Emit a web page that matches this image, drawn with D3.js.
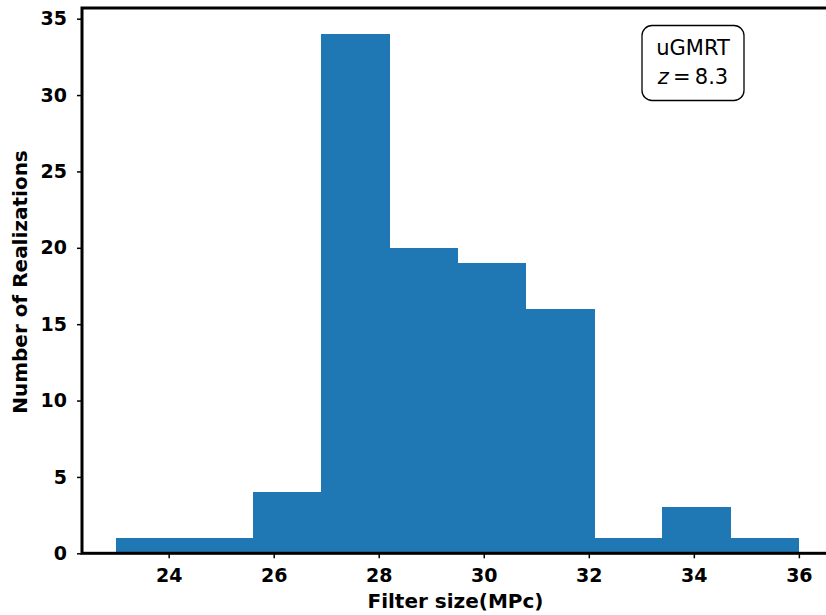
<!DOCTYPE html>
<html>
<head>
<meta charset="utf-8">
<script src="https://cdn.jsdelivr.net/npm/d3@7"></script>
<style>
  body { margin: 0; background: #fff; }
  svg { display: block; font-family: "DejaVu Sans", sans-serif; }
</style>
</head>
<body>
<svg id="chart" width="826" height="615"></svg>
<script>
(function () {
// Histogram bins: 10 equal bins spanning 23..36 MPc
const binEdges = [23, 24.3, 25.6, 26.9, 28.2, 29.5, 30.8, 32.1, 33.4, 34.7, 36];
const counts = [1, 1, 4, 34, 20, 19, 16, 1, 3, 1];
const xTicks = [24, 26, 28, 30, 32, 34, 36];
const yTicks = [0, 5, 10, 15, 20, 25, 30, 35];

const svg = d3.select("#chart");
const plotLeft = 82, plotRight = 833, plotTop = 8, plotBottom = 553.3;

const x = d3.scaleLinear().domain([22.35, 36.65]).range([plotLeft, plotRight]);
const y = d3.scaleLinear().domain([0, 35.7]).range([plotBottom, plotTop]);

const bins = counts.map((c, i) => ({ x0: binEdges[i], x1: binEdges[i + 1], n: c }));

svg.append("g").attr("shape-rendering", "crispEdges")
  .selectAll("rect").data(bins).join("rect")
  .attr("x", d => x(d.x0))
  .attr("width", d => x(d.x1) - x(d.x0) + 0.5)
  .attr("y", d => y(d.n))
  .attr("height", d => y(0) - y(d.n))
  .attr("fill", "#1f77b4");

// axes
const xAxis = d3.axisBottom(x).tickValues(xTicks).tickFormat(d3.format("d")).tickSize(5).tickPadding(10);
const yAxis = d3.axisLeft(y).tickValues(yTicks).tickFormat(d3.format("d")).tickSize(5).tickPadding(10);

const gx = svg.append("g").attr("transform", `translate(0,${plotBottom})`).call(xAxis);
const gy = svg.append("g").attr("transform", `translate(${plotLeft},0)`).call(yAxis);
[gx, gy].forEach(g => {
  g.select(".domain").remove();
  g.selectAll(".tick line").attr("stroke", "#000").attr("stroke-width", 1.5);
  g.selectAll(".tick text")
    .attr("fill", "#000")
    .style("font-family", "'DejaVu Sans', sans-serif")
    .style("font-size", "19px")
    .style("font-weight", "bold");
});

// frame (spines)
svg.append("rect")
  .attr("x", plotLeft).attr("y", plotTop)
  .attr("width", plotRight - plotLeft).attr("height", plotBottom - plotTop)
  .attr("fill", "none").attr("stroke", "#000").attr("stroke-width", 3);

// axis labels
svg.append("text")
  .attr("x", (plotLeft + plotRight) / 2 - 2).attr("y", 608)
  .attr("text-anchor", "middle")
  .style("font-size", "20px").style("font-weight", "bold")
  .text("Filter size(MPc)");

svg.append("text")
  .attr("transform", `translate(27,282) rotate(-90)`)
  .attr("text-anchor", "middle")
  .style("font-size", "20px").style("font-weight", "bold")
  .text("Number of Realizations");

// annotation box
const box = svg.append("g");
box.append("rect")
  .attr("x", 642).attr("y", 25.5).attr("width", 102).attr("height", 75)
  .attr("rx", 10).attr("ry", 10)
  .attr("fill", "#fff").attr("stroke", "#000").attr("stroke-width", 1.3);
box.append("text")
  .attr("x", 693).attr("y", 55)
  .attr("text-anchor", "middle")
  .style("font-size", "21px")
  .text("uGMRT");
const t2 = box.append("text")
  .attr("x", 693).attr("y", 84)
  .attr("text-anchor", "middle")
  .style("font-size", "21px");
t2.append("tspan").style("font-style", "italic").text("z");
t2.append("tspan").text("\u2009=\u20098.3");
})();
</script>
</body>
</html>
